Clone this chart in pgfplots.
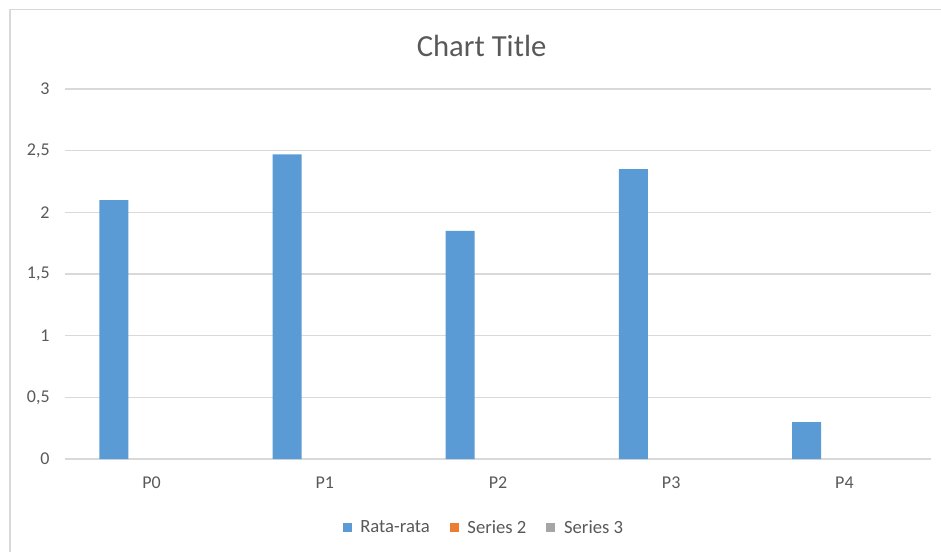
\documentclass[border=0pt]{standalone}
\usepackage{fontspec}
\setmainfont{Carlito}
\usepackage{pgfplots}
\pgfplotsset{compat=1.18}

\definecolor{barblue}{RGB}{91,155,213}
\definecolor{barorange}{RGB}{237,125,49}
\definecolor{bargray}{RGB}{165,165,165}
\definecolor{gridgray}{RGB}{217,217,217}
\definecolor{textgray}{RGB}{89,89,89}

\begin{document}
\begin{tikzpicture}
% picture is 941x551 px at 0.75pt per px
\useasboundingbox (0,0) rectangle (705.75pt,413.25pt);
\draw[gridgray, line width=0.8pt] (7.5pt,-5pt) -- (7.5pt,406.1pt) -- (720pt,406.1pt);
\begin{axis}[
    at={(48.75pt,69pt)}, anchor=south west,
    scale only axis,
    width=649.5pt, height=277.5pt,
    ybar=6.6pt, bar width=21.75pt,
    xmin=-0.5, xmax=4.5,
    ymin=0, ymax=3,
    ytick={0,0.5,...,3},
    xtick={0,1,2,3,4},
    xticklabels={P0,P1,P2,P3,P4},
    major tick length=0pt,
    axis x line*=bottom,
    axis y line*=left,
    x axis line style={gridgray, line width=0.8pt},
    y axis line style={draw=none},
    ymajorgrids,
    grid style={gridgray, line width=0.8pt},
    /pgf/number format/use comma,
    /pgf/number format/assume math mode=true,
    ticklabel style={font=\fontsize{13.5}{16}\selectfont, text=textgray},
    yticklabel style={xshift=-8pt},
    xticklabel style={yshift=-10pt},
    title=Chart Title,
    title style={at={(axis description cs:0.481,1.094)}, anchor=center,
        font=\fontsize{23}{27}\selectfont, text=textgray},
    legend columns=3,
    legend style={draw=none, at={(axis description cs:0.484,-0.186)}, anchor=center,
        font=\fontsize{14}{16}\selectfont, text=textgray,
        /tikz/every odd column/.append style={column sep=4.5pt},
        /tikz/every even column/.append style={column sep=13pt}},
    legend image code/.code={\fill[#1] (0pt,-3.4pt) rectangle (6.8pt,3.4pt);},
]
\addplot[fill=barblue, draw=none, bar shift=-28.35pt] coordinates {
(0,2.10)
(1,2.47)
(2,1.85)
(3,2.35)
(4,0.30)
};
\addlegendentry{Rata-rata}
\addlegendimage{fill=barorange, draw=none}
\addlegendentry{Series 2}
\addlegendimage{fill=bargray, draw=none}
\addlegendentry{Series 3}
\end{axis}
\end{tikzpicture}
\end{document}
